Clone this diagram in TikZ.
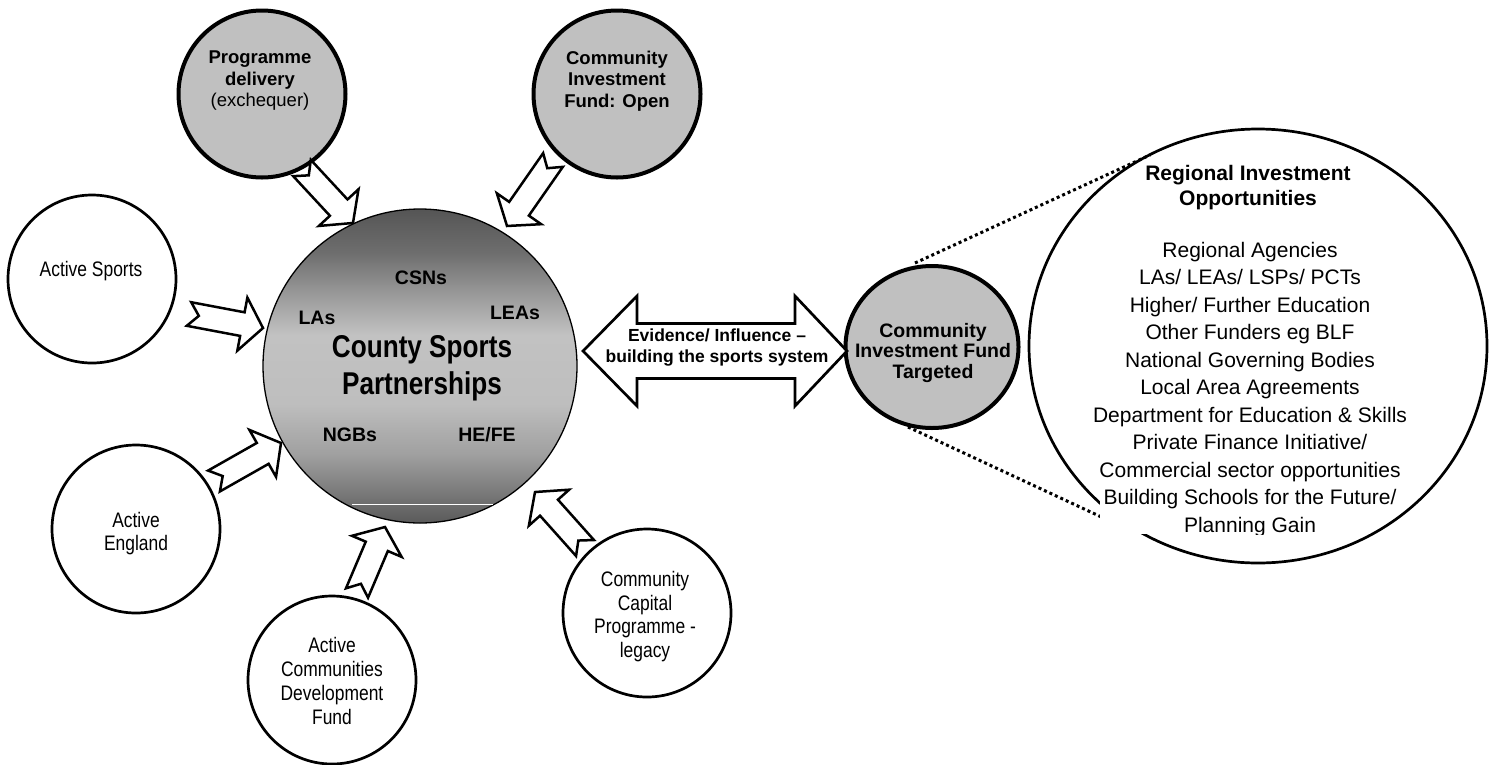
\documentclass[tikz,border=0pt]{standalone}
\usepackage{fontspec}
\setmainfont{Liberation Sans}
\newfontfamily\narrowfont[FakeStretch=0.83]{Liberation Sans}
\usetikzlibrary{calc,shapes.geometric}
\definecolor{cgray}{HTML}{C0C0C0}
\definecolor{sA}{HTML}{5A5A5A}
\definecolor{sB}{HTML}{7A7A7A}
\definecolor{sC}{HTML}{A0A0A0}
\definecolor{sD}{HTML}{BEBEBE}
\definecolor{sE}{HTML}{C2C2C2}
\definecolor{sF}{HTML}{9C9C9C}
\definecolor{sG}{HTML}{6E6E6E}
\definecolor{sH}{HTML}{555555}
\pgfdeclareverticalshading{cspshade}{100bp}{color(0bp)=(sA); color(25bp)=(sA); color(30bp)=(sB); color(36bp)=(sC); color(44bp)=(sD); color(55bp)=(sE); color(61bp)=(sF); color(68bp)=(sG); color(75bp)=(sH); color(100bp)=(sH)}
\newdimen\baX
\newdimen\baY
\newcommand\notcharrow[2]{%
  \pgfextractx{\baX}{\pgfpointdiff{\pgfpointanchor{#1}{center}}{\pgfpointanchor{#2}{center}}}%
  \pgfextracty{\baY}{\pgfpointdiff{\pgfpointanchor{#1}{center}}{\pgfpointanchor{#2}{center}}}%
  \pgfmathsetmacro\baang{atan2(\baY,\baX)}%
  \pgfmathsetmacro\balen{veclen(\baX,\baY)}%
  \pgfmathsetmacro\babase{\balen-21}%
  \begin{scope}[shift={(#1)},rotate=\baang]
    \draw[notchbody] (0pt,12pt) -- (\babase pt,12pt) -- (\babase pt,27pt) -- (\balen pt,0pt) -- (\babase pt,-27pt) -- (\babase pt,-12pt) -- (0pt,-12pt) -- (10pt,0pt) -- cycle;
  \end{scope}}
\begin{document}
\begin{tikzpicture}[x=1pt,y=-1pt,
  whitecirc/.style={circle,draw=black,fill=white,line width=2.7pt,minimum size=168pt,inner sep=0pt},
  graycirc/.style={circle,draw=black,fill=cgray,line width=4pt,minimum size=167pt,inner sep=0pt},
  notchbody/.style={draw=black,fill=white,line width=2.5pt,line join=miter},
  narrowtxt/.style={align=center,inner sep=0pt,font=\narrowfont\fontsize{21}{23.5}\selectfont},
  boldlbl/.style={inner sep=0pt,font=\bfseries\fontsize{19.5}{22}\selectfont},
  dots/.style={line width=3pt,dash pattern=on 3pt off 3pt}]
\useasboundingbox (0,0) rectangle (1490,764);

% central circle
\node[circle,draw=black,line width=1.3pt,shade,shading=cspshade,minimum size=314pt,inner sep=0pt] (csp) at (420,366) {};
\draw[white,line width=1pt] (352,504) -- (493,504);
\node[align=center,inner sep=0pt,font=\narrowfont\bfseries\fontsize{31.5}{37}\selectfont] (csp-t) at (422,368.5) {County Sports\\Partnerships};
\node[boldlbl] (csns) at (421,278) {CSNs};
\node[boldlbl] (las) at (317,318) {LAs};
\node[boldlbl] (leas) at (515,313) {LEAs};
\node[boldlbl] (ngbs) at (350,435) {NGBs};
\node[boldlbl] (hefe) at (487,435) {HE/FE};

% top gray circles
\node[graycirc] (pd) at (262,94) {};
\node[align=center,inner sep=0pt,font=\fontsize{18.5}{21.5}\selectfont] (pd-t) at (260,81) {\textbf{Programme}\\\textbf{delivery}\\(exchequer)};
\node[graycirc] (cio) at (617,94) {};
\node[align=center,inner sep=0pt,font=\bfseries\fontsize{18.5}{21.5}\selectfont] (cio-t) at (617,81) {Community\\Investment\\Fund: Open};

% white circles
\node[whitecirc] (as) at (92,279) {};
\node[narrowtxt] (as-t) at (91,271) {Active Sports};
\node[whitecirc] (ae) at (136,529) {};
\node[narrowtxt] (ae-t) at (136,533.5) {Active\\England};
\node[whitecirc] (acd) at (332,680) {};
\node[narrowtxt,font=\narrowfont\fontsize{21}{24.3}\selectfont] (acd-t) at (332,681) {Active\\Communities\\Development\\Fund};
\node[whitecirc] (ccp) at (647,613) {};
\node[narrowtxt] (ccp-t) at (645,616.5) {Community\\Capital\\Programme -\\legacy};

% notched block arrows
\coordinate (pdT) at (302,168); \coordinate (pdH) at (353,223);
\coordinate (cioT) at (553,160); \coordinate (cioH) at (507,226);
\coordinate (asT) at (189,314); \coordinate (asH) at (263,328);
\coordinate (aeT) at (214,481); \coordinate (aeH) at (281,443);
\coordinate (acdT) at (357,593); \coordinate (acdH) at (385,527);
\coordinate (ccpT) at (585,548); \coordinate (ccpH) at (535,492);
\notcharrow{pdT}{pdH}
\notcharrow{cioT}{cioH}
\notcharrow{asT}{asH}
\notcharrow{aeT}{aeH}
\notcharrow{acdT}{acdH}
\notcharrow{ccpT}{ccpH}

% targeted fund and big circle
\node[ellipse,draw=black,fill=cgray,line width=4pt,minimum width=173pt,minimum height=162pt,inner sep=0pt] (cift) at (932,347) {};
\node[align=center,inner sep=0pt,font=\bfseries\fontsize{19.5}{20.5}\selectfont] (cift-t) at (933,352.5) {Community\\Investment Fund\\Targeted};
\node[ellipse,draw=black,line width=2.7pt,minimum width=458pt,minimum height=434pt,inner sep=0pt] (rio) at (1258,346) {};
\coordinate (d1a) at (915,263); \coordinate (d1b) at (1150,155);
\coordinate (d2a) at (908,427); \coordinate (d2b) at (1110,521);
\draw[dots] (d1a) -- (d1b);
\draw[dots] (d2a) -- (d2b);
\fill[white] (1100,498) rectangle (1370,534);
\node[align=center,inner sep=0pt,font=\bfseries\fontsize{21}{25}\selectfont] (rio-title) at (1248,187.5) {Regional Investment\\Opportunities};
\begin{scope}
\clip (1000,130) rectangle (1480,534);
\node[align=center,inner sep=0pt,font=\fontsize{21}{27.5}\selectfont] (rio-body) at (1250,389.5) {Regional Agencies\\LAs/ LEAs/ LSPs/ PCTs\\Higher/ Further Education\\Other Funders eg BLF\\National Governing Bodies\hspace*{74pt}\\Local Area Agreements\\Department for Education \& Skills\\Private Finance Initiative/\\Commercial sector opportunities\\Building Schools for the Future/\\Planning Gain};
\end{scope}

% double arrow
\coordinate (dl) at (583,351);
\coordinate (dr) at (847,351);
\draw[draw=black,fill=white,line width=2.7pt,line join=miter]
  (dl) -- ($(dl)+(54,-55)$) -- ($(dl)+(54,-27.5)$) -- ($(dr)+(-52,-27.5)$) -- ($(dr)+(-52,-55)$) -- (dr)
  -- ($(dr)+(-52,55)$) -- ($(dr)+(-52,27.5)$) -- ($(dl)+(54,27.5)$) -- ($(dl)+(54,55)$) -- cycle;
\node[align=center,inner sep=0pt,font=\bfseries\fontsize{17.5}{21}\selectfont] (evid) at (717,347.5) {Evidence/ Influence --\\building the sports system};
\end{tikzpicture}
\end{document}
